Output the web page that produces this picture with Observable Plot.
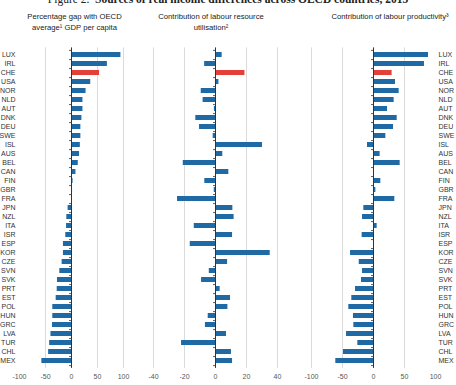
<!DOCTYPE html>
<html><head><meta charset="utf-8">
<script src="https://cdn.jsdelivr.net/npm/d3@7"></script>
<script src="https://cdn.jsdelivr.net/npm/@observablehq/plot@0.6"></script>
<style>
html,body{margin:0;padding:0;background:#fff;}
#wrap{position:relative;width:456px;height:385px;overflow:hidden;font-family:"Liberation Sans",Arial,sans-serif;}
#wrap svg{position:absolute;left:0;top:0;}
#title{position:absolute;left:0;width:456px;top:-6px;text-align:center;font-family:"Liberation Serif","Times New Roman",serif;font-size:11.5px;line-height:11.5px;color:#222;white-space:pre;}
.sub{position:absolute;text-align:center;font-size:7.7px;line-height:11px;color:#222;white-space:nowrap;width:160px;top:10.8px;}
</style></head><body>
<div id="wrap">
  <div id="title">Figure 2.  <b>Sources of real income differences across OECD countries, 2015</b></div>
  <div class="sub" style="left:-5.5px">Percentage gap with OECD<br>average¹ GDP per capita</div>
  <div class="sub" style="left:131px">Contribution of labour resource<br>utilisation²</div>
  <div class="sub" style="left:310px">Contribution of labour productivity³</div>
</div>
<script>
const countries = ["LUX","IRL","CHE","USA","NOR","NLD","AUT","DNK","DEU","SWE","ISL","AUS","BEL","CAN","FIN","GBR","FRA","JPN","NZL","ITA","ISR","ESP","KOR","CZE","SVN","SVK","PRT","EST","POL","HUN","GRC","LVA","TUR","CHL","MEX"];
const gdpGap = [95, 69, 54, 37, 28, 22, 22, 20, 18, 18, 17, 15.5, 13, 8.5, 3, 2, 0.5, -6.5, -9, -9.5, -11, -15.5, -15.5, -18, -22.5, -27, -27.5, -29.5, -36, -36, -36.5, -39.5, -42, -44, -57];
const labourUtil = [4.3, -7, 19, 2.2, -9.2, -8, -0.7, -12.7, -10.3, -1.5, 30.3, 4.7, -20.8, 8.6, -6.9, -0.8, -24.5, 11.2, 12, -13.7, 11, -16.3, 35.3, 7.8, -4, -9, 3, 9.7, 8, -4.7, -6.5, 7.1, -21.9, 10.3, 11];
const labourProd = [88.7, 82.2, 30, 35.5, 41.4, 33.3, 22.6, 38.2, 32.3, 19.9, -9.7, 10.7, 43, 0.3, 11.8, 3.8, 34.4, -15.6, -17.7, 5.9, -18.3, 1, -37, -23, -17.7, -19.4, -29, -35, -39.8, -32.3, -31.7, -43.5, -25.3, -48.4, -60.8];
const highlighted = "CHE";
const ticks1 = [-100, -50, 0, 50, 100];
const grid1 = [-50, 50, 100];
const ticks2 = [-40, -20, 0, 20, 40];
const grid2 = [-40, -20, 20, 40];
const ticks3 = [-100, -50, 0, 50, 100];
const grid3 = [-100, -50, 50];

const W = 456, H = 385, TOP = 47.4, BOTTOM = 367.9;
const step = (BOTTOM - TOP) / countries.length;
const BLUE = "#1f6aa5", RED = "#e3403a";

function panel(values, domain, x0, x1, ticks, grid, side) {
  const data = countries.map((c, i) => ({country: c, value: values[i], hl: c === highlighted ? "hl" : "base"}));
  const pxPerUnit = (x1 - x0) / (domain[1] - domain[0]);
  const len = 2 / pxPerUnit;
  const marks = [
    Plot.ruleX(grid, {stroke: "#dadada", strokeWidth: 1}),
    Plot.barX(data, {x: "value", y: "country", fill: "hl"}),
    Plot.ruleX([0], {stroke: "#333", strokeWidth: 1}),
    Plot.ruleY(data, {y: "country", x1: -len, x2: 0, dy: step / 2, stroke: "#333", strokeWidth: 0.8}),
    Plot.ruleY(data.slice(0, 1), {y: "country", x1: -len, x2: 0, dy: -step / 2, stroke: "#333", strokeWidth: 0.8}),
    Plot.axisX({ticks, tickSize: 0, tickPadding: 6, label: null, fill: "#555", fontSize: 7, tickFormat: d => String(d)})
  ];
  if (side) marks.push(Plot.axisY({anchor: side, tickSize: 0, tickPadding: side === "left" ? 4 : 3, label: null, fill: "#333", fontSize: 7}));
  return Plot.plot({
    width: W, height: H,
    marginLeft: x0, marginRight: W - x1, marginTop: TOP, marginBottom: H - BOTTOM,
    x: {domain, label: null},
    y: {domain: countries, paddingInner: 0.5, paddingOuter: 0.25, axis: side ? undefined : null, label: null},
    color: {domain: ["base", "hl"], range: [BLUE, RED]},
    style: {background: "transparent", fontFamily: "'Liberation Sans', Arial, sans-serif", fontSize: "7px", overflow: "visible"},
    marks
  });
}

const wrap = document.getElementById("wrap");
wrap.insertBefore(panel(gdpGap, [-100, 100], 19, 123, ticks1, grid1, "left"), wrap.firstChild);
wrap.insertBefore(panel(labourUtil, [-40, 40], 153, 277, ticks2, grid2, null), wrap.firstChild);
wrap.insertBefore(panel(labourProd, [-100, 100], 311, 435, ticks3, grid3, "right"), wrap.firstChild);
</script>
</body></html>
